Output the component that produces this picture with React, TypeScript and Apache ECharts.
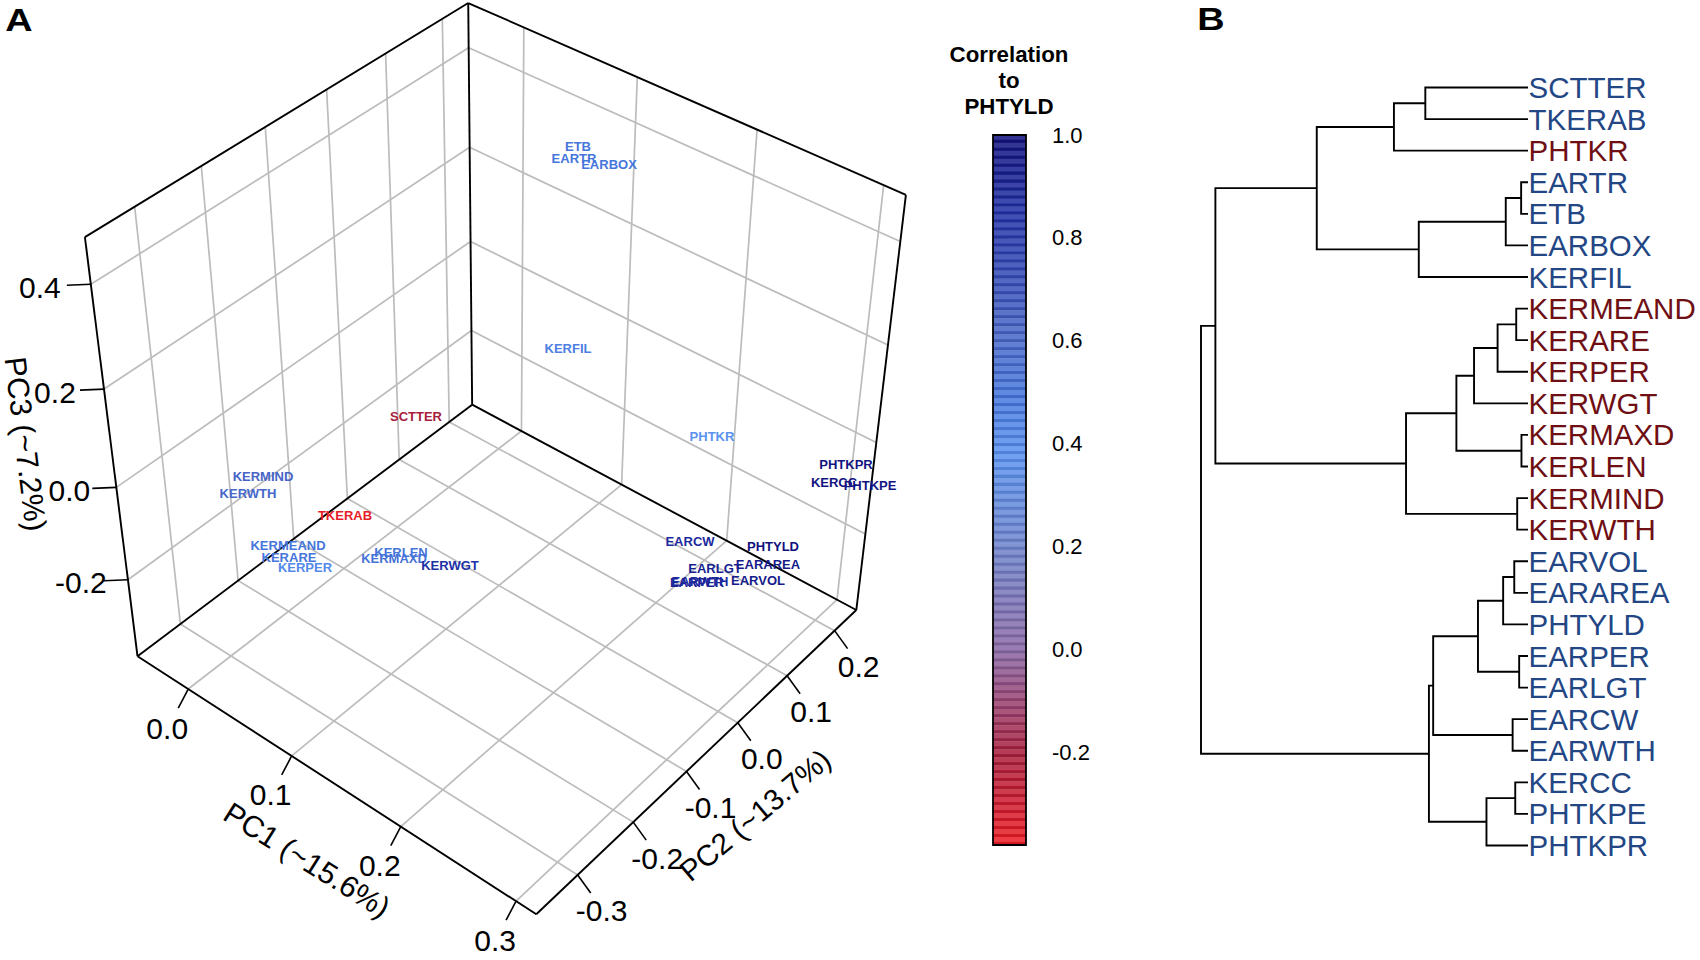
import React, { useEffect, useRef } from "react";
import * as echarts from "echarts";

const FONT = "Liberation Sans";

// ---------- Panel A data ----------
const traitNames = ["ETB","EARTR","EARBOX","KERFIL","SCTTER","PHTKR","PHTKPR","KERCC","PHTKPE","KERMIND","KERWTH","TKERAB","KERMEAND","KERARE","KERPER","KERLEN","KERMAXD","KERWGT","EARCW","PHTYLD","EARAREA","EARLGT","EARWTH","EARPER","EARVOL"];
const traitProjectedX = [578,574,609,568,416,712,846,834,870,263,248,345,288,289,305,401,394,450,690,773,768,715,700,697,758];
const traitProjectedY = [146,158,164,348,416,436,464,482,485,476,493,515,545,557,567,552,558,565,541,546,564,568,581,582,580];
const traitCorrelation = [0.5,0.5,0.5,0.46,-0.2,0.38,0.98,0.98,0.98,0.62,0.6,-0.36,0.5,0.5,0.42,0.5,0.52,0.85,0.88,1.0,0.95,0.93,0.88,0.9,0.95];

const pc1Ticks = [0.0, 0.1, 0.2, 0.3];
const pc2Ticks = [-0.3, -0.2, -0.1, 0.0, 0.1, 0.2];
const pc3Ticks = [-0.2, 0.0, 0.2, 0.4];
const pc1Range = [-0.051, 0.317];
const pc2Range = [-0.372, 0.247];
const pc3Range = [-0.375, 0.486];

// Projection calibration: [pc1, pc2, pc3, screenX, screenY]
const projectionAnchors: number[][] = [
  [pc1Range[0], pc2Range[0], pc3Range[0], 137, 655],
  [pc1Range[1], pc2Range[0], pc3Range[0], 535, 914],
  [pc1Range[1], pc2Range[1], pc3Range[0], 857, 609],
  [pc1Range[0], pc2Range[1], pc3Range[0], 472, 405],
  [pc1Range[0], pc2Range[0], pc3Range[1], 85, 236],
  [pc1Range[0], pc2Range[1], pc3Range[1], 468, 3],
  [pc1Range[1], pc2Range[1], pc3Range[1], 906, 195],
  [0.0, pc2Range[0], pc3Range[0], 189, 690],
  [0.1, pc2Range[0], pc3Range[0], 292, 757],
  [0.2, pc2Range[0], pc3Range[0], 401, 827],
  [0.3, pc2Range[0], pc3Range[0], 515, 900],
  [pc1Range[1], -0.3, pc3Range[0], 578, 876],
  [pc1Range[1], -0.2, pc3Range[0], 635, 821],
  [pc1Range[1], -0.1, pc3Range[0], 687, 773],
  [pc1Range[1], 0.0, pc3Range[0], 737, 722],
  [pc1Range[1], 0.1, pc3Range[0], 787, 676],
  [pc1Range[1], 0.2, pc3Range[0], 834, 631],
  [pc1Range[0], pc2Range[0], -0.2, 128, 579],
  [pc1Range[0], pc2Range[0], 0.0, 116, 487],
  [pc1Range[0], pc2Range[0], 0.2, 104, 390],
  [pc1Range[0], pc2Range[0], 0.4, 91, 285],
];

// ---------- Colour scale ----------
const colorStopValues = [-0.38, -0.2, 0, 0.2, 0.38, 0.5, 0.62, 0.85, 1];
const colorStopHex = ["#ee1c24", "#a81c3c", "#8a68a6", "#6f84cc", "#5a92f0", "#4676dc", "#4664c6", "#2030a6", "#10107c"];
const colorBarMin = -0.379;
const colorBarMax = 1.0;
const colorBarStep = 0.0155;
const colorBarTicks = [-0.2, 0, 0.2, 0.4, 0.6, 0.8, 1.0];

// ---------- Panel B data ----------
const leafNames = ["SCTTER","TKERAB","PHTKR","EARTR","ETB","EARBOX","KERFIL","KERMEAND","KERARE","KERPER","KERWGT","KERMAXD","KERLEN","KERMIND","KERWTH","EARVOL","EARAREA","PHTYLD","EARPER","EARLGT","EARCW","EARWTH","KERCC","PHTKPE","PHTKPR"];
const redLeaves = ["PHTKR","KERMEAND","KERARE","KERPER","KERWGT","KERMAXD","KERLEN","KERMIND","KERWTH"];
// [left child, right child, height]: a child is a leaf name or the index of an earlier merge
const merges: [string | number, string | number, number][] = [
  ["SCTTER","TKERAB",0.314],
  [0,"PHTKR",0.41],
  ["EARTR","ETB",0.021],
  [2,"EARBOX",0.068],
  [3,"KERFIL",0.334],
  [1,4,0.646],
  ["KERMEAND","KERARE",0.036],
  [6,"KERPER",0.093],
  [7,"KERWGT",0.165],
  ["KERMAXD","KERLEN",0.02],
  [8,9,0.219],
  ["KERMIND","KERWTH",0.033],
  [10,11,0.373],
  [5,12,0.956],
  ["EARVOL","EARAREA",0.042],
  [14,"PHTYLD",0.076],
  ["EARPER","EARLGT",0.027],
  [15,16,0.153],
  ["EARCW","EARWTH",0.047],
  [17,18,0.29],
  ["KERCC","PHTKPE",0.039],
  [20,"PHTKPR",0.127],
  [19,21,0.303],
  [13,22,1.0],
];

// ---------- Helpers ----------
function hexRgb(h: string) {
  return [parseInt(h.slice(1, 3), 16), parseInt(h.slice(3, 5), 16), parseInt(h.slice(5, 7), 16)];
}
function mix(a: number[], b: number[], t: number) {
  return a.map((v, i) => v + (b[i] - v) * t);
}
function css(c: number[]) {
  return `rgb(${Math.round(c[0])},${Math.round(c[1])},${Math.round(c[2])})`;
}
function ramp(v: number) {
  const n = colorStopValues.length;
  if (v <= colorStopValues[0]) return hexRgb(colorStopHex[0]);
  for (let i = 1; i < n; i++) {
    if (v <= colorStopValues[i]) {
      const t = (v - colorStopValues[i - 1]) / (colorStopValues[i] - colorStopValues[i - 1]);
      return mix(hexRgb(colorStopHex[i - 1]), hexRgb(colorStopHex[i]), t);
    }
  }
  return hexRgb(colorStopHex[n - 1]);
}

function solveLinear(A: number[][], b: number[]) {
  const n = b.length;
  const M = A.map((r, i) => [...r, b[i]]);
  for (let c = 0; c < n; c++) {
    let piv = c;
    for (let r = c + 1; r < n; r++) if (Math.abs(M[r][c]) > Math.abs(M[piv][c])) piv = r;
    [M[c], M[piv]] = [M[piv], M[c]];
    for (let r = 0; r < n; r++) {
      if (r === c) continue;
      const f = M[r][c] / M[c][c];
      for (let k = c; k <= n; k++) M[r][k] -= f * M[c][k];
    }
  }
  return M.map((r, i) => r[n] / r[i]);
}

function fitProjection() {
  const rows: number[][] = [];
  const rhs: number[] = [];
  projectionAnchors.forEach(([u, v, w, X, Y]) => {
    const x = X / 1000;
    const y = Y / 1000;
    rows.push([u, v, w, 1, 0, 0, 0, 0, -x * u, -x * v, -x * w]);
    rhs.push(x);
    rows.push([0, 0, 0, 0, u, v, w, 1, -y * u, -y * v, -y * w]);
    rhs.push(y);
  });
  const m = 11;
  const AtA = Array.from({ length: m }, (_, i) =>
    Array.from({ length: m }, (_, j) => rows.reduce((s, r) => s + r[i] * r[j], 0))
  );
  const Atb = Array.from({ length: m }, (_, i) => rows.reduce((s, r, k) => s + r[i] * rhs[k], 0));
  return solveLinear(AtA, Atb);
}
const P = fitProjection();
function project(u: number, v: number, w: number) {
  const d = P[8] * u + P[9] * v + P[10] * w + 1;
  return [
    (1000 * (P[0] * u + P[1] * v + P[2] * w + P[3])) / d,
    (1000 * (P[4] * u + P[5] * v + P[6] * w + P[7])) / d,
  ];
}

function seg(a: number[], b: number[]) {
  return [a[0], a[1], b[0], b[1]];
}

function buildPlotLines() {
  const [x0, x1] = pc1Range;
  const [y0, y1] = pc2Range;
  const [z0, z1] = pc3Range;
  const grid: number[][] = [];
  pc1Ticks.forEach((t) => {
    grid.push(seg(project(t, y0, z0), project(t, y1, z0)));
    grid.push(seg(project(t, y1, z0), project(t, y1, z1)));
  });
  pc2Ticks.forEach((t) => {
    grid.push(seg(project(x0, t, z0), project(x1, t, z0)));
    grid.push(seg(project(x0, t, z0), project(x0, t, z1)));
  });
  pc3Ticks.forEach((t) => {
    grid.push(seg(project(x0, y0, t), project(x0, y1, t)));
    grid.push(seg(project(x0, y1, t), project(x1, y1, t)));
  });
  const box = [
    seg(project(x0, y0, z1), project(x0, y1, z1)),
    seg(project(x0, y1, z1), project(x1, y1, z1)),
    seg(project(x0, y0, z1), project(x0, y0, z0)),
    seg(project(x0, y1, z1), project(x0, y1, z0)),
    seg(project(x1, y1, z1), project(x1, y1, z0)),
    seg(project(x0, y0, z0), project(x0, y1, z0)),
    seg(project(x0, y1, z0), project(x1, y1, z0)),
    seg(project(x0, y0, z0), project(x1, y0, z0)),
    seg(project(x1, y0, z0), project(x1, y1, z0)),
  ];
  const ticks: number[][] = [];
  const labels: { name: string; value: number[] }[] = [];
  pc1Ticks.forEach((t) => {
    const p = project(t, y0, z0);
    ticks.push([p[0], p[1], p[0] - 10, p[1] + 19]);
    labels.push({ name: t.toFixed(1), value: [p[0] - 21, p[1] + 39] });
  });
  pc2Ticks.forEach((t) => {
    const p = project(x1, t, z0);
    ticks.push([p[0], p[1], p[0] + 13, p[1] + 18]);
    labels.push({ name: t.toFixed(1), value: [p[0] + 24, p[1] + 36] });
  });
  pc3Ticks.forEach((t) => {
    const p = project(x0, y0, t);
    ticks.push([p[0], p[1], p[0] - 24, p[1] + 1]);
    labels.push({ name: t.toFixed(1), value: [p[0] - 47 - Math.max(0, t) * 10, p[1] + 3] });
  });
  return { grid, box, ticks, labels };
}

function buildDendrogram() {
  const leafY = (n: string) => leafNames.indexOf(n);
  const nodeY: number[] = [];
  const rows: number[][] = [];
  const place = (c: string | number): [number, number] =>
    typeof c === "string" ? [0, leafY(c)] : [merges[c][2], nodeY[c]];
  merges.forEach(([a, b, h], i) => {
    const [ha, ya] = place(a);
    const [hb, yb] = place(b);
    nodeY[i] = (ya + yb) / 2;
    rows.push([ha, ya, h, yb, hb]);
  });
  return rows;
}

function segmentSeries(data: number[][], stroke: string, lineWidth: number) {
  return {
    type: "custom",
    xAxisIndex: 0,
    yAxisIndex: 0,
    silent: true,
    clip: false,
    data,
    renderItem: (_p: any, api: any) => {
      const a = api.coord([api.value(0), api.value(1)]);
      const b = api.coord([api.value(2), api.value(3)]);
      return {
        type: "line",
        shape: { x1: a[0], y1: a[1], x2: b[0], y2: b[1] },
        style: { stroke, lineWidth, fill: null },
      };
    },
  };
}

function buildOption() {
  const { grid, box, ticks, labels } = buildPlotLines();
  const traitData = traitNames.map((name, i) => {
    const color = css(ramp(traitCorrelation[i]));
    return {
      name,
      value: [traitProjectedX[i], traitProjectedY[i]],
      label: { color, textBorderColor: "transparent", textBorderWidth: 0 },
    };
  });
  const bandValues: number[][] = [];
  for (let v = colorBarMin; v < colorBarMax - 1e-6; v += colorBarStep) bandValues.push([0, v]);
  const tree = buildDendrogram();

  return {
    animation: false,
    backgroundColor: "#ffffff",
    textStyle: { fontFamily: FONT },
    grid: [
      { left: 0, top: 0, width: 1700, height: 960 },
      { left: 993, top: 135, width: 33, height: 710 },
      { left: 1201, top: 87.5, width: 327, height: 758 },
    ],
    xAxis: [
      { type: "value", gridIndex: 0, min: 0, max: 1700, show: false },
      { type: "value", gridIndex: 1, min: 0, max: 1, show: false },
      { type: "value", gridIndex: 2, min: 0, max: 1, inverse: true, show: false },
    ],
    yAxis: [
      { type: "value", gridIndex: 0, min: 0, max: 960, inverse: true, show: false },
      {
        type: "value",
        gridIndex: 1,
        min: colorBarMin,
        max: colorBarMax,
        position: "right",
        splitLine: { show: false },
        axisLine: { show: false },
        axisTick: {
          show: true,
          length: 14,
          customValues: colorBarTicks,
          lineStyle: { color: "#000", width: 1.5 },
        },
        axisLabel: {
          show: true,
          customValues: colorBarTicks,
          margin: 26,
          fontSize: 22,
          fontFamily: FONT,
          color: "#000",
          formatter: (v: number) => v.toFixed(1),
        },
      },
      {
        type: "value",
        gridIndex: 2,
        min: 0,
        max: leafNames.length - 1,
        interval: 1,
        inverse: true,
        position: "right",
        splitLine: { show: false },
        axisLine: { show: false },
        axisTick: { show: false },
        axisLabel: {
          show: true,
          margin: 0.5,
          fontSize: 29.5,
          fontFamily: FONT,
          formatter: (v: number) => leafNames[v],
          color: (v: any) => (redLeaves.includes(leafNames[Number(v)]) ? "#6f0f14" : "#234684"),
        },
      },
    ],
    series: [
      segmentSeries(grid, "#bcbcbc", 1.7),
      segmentSeries(box, "#000000", 1.9),
      segmentSeries(ticks, "#000000", 1.6),
      {
        type: "scatter",
        xAxisIndex: 0,
        yAxisIndex: 0,
        silent: true,
        symbolSize: 1,
        itemStyle: { color: "transparent", opacity: 1 },
        data: labels,
        label: {
          show: true,
          position: "inside",
          formatter: "{b}",
          color: "#000",
          fontSize: 30,
          fontFamily: FONT,
          textBorderWidth: 0,
          textBorderColor: "transparent",
        },
      },
      {
        type: "scatter",
        xAxisIndex: 0,
        yAxisIndex: 0,
        silent: true,
        symbolSize: 1,
        itemStyle: { color: "transparent", opacity: 1 },
        data: traitData,
        label: {
          show: true,
          position: "inside",
          formatter: "{b}",
          fontSize: 13,
          fontWeight: "bold",
          fontFamily: FONT,
        },
      },
      {
        type: "custom",
        xAxisIndex: 1,
        yAxisIndex: 1,
        silent: true,
        data: bandValues,
        renderItem: (_p: any, api: any) => {
          const v = api.value(1);
          const next = Math.min(v + colorBarStep, colorBarMax);
          const tl = api.coord([0, next]);
          const br = api.coord([1, v]);
          const h = br[1] - tl[1];
          const base = ramp(v + colorBarStep / 2);
          return {
            type: "group",
            children: [
              {
                type: "rect",
                shape: { x: tl[0], y: tl[1], width: br[0] - tl[0], height: h + 0.3 },
                style: { fill: css(mix(base, [255, 255, 255], 0.14)) },
              },
              {
                type: "rect",
                shape: { x: tl[0], y: tl[1] + h * 0.62, width: br[0] - tl[0], height: h * 0.38 },
                style: { fill: css(mix(base, [0, 0, 0], 0.1)) },
              },
            ],
          };
        },
      },
      {
        type: "custom",
        xAxisIndex: 1,
        yAxisIndex: 1,
        silent: true,
        clip: false,
        data: [[0, colorBarMin, 1, colorBarMax]],
        renderItem: (_p: any, api: any) => {
          const a = api.coord([api.value(0), api.value(3)]);
          const b = api.coord([api.value(2), api.value(1)]);
          return {
            type: "rect",
            shape: { x: a[0], y: a[1], width: b[0] - a[0], height: b[1] - a[1] },
            style: { fill: "none", stroke: "#000", lineWidth: 1.8 },
          };
        },
      },
      {
        type: "custom",
        xAxisIndex: 2,
        yAxisIndex: 2,
        silent: true,
        clip: false,
        data: tree,
        renderItem: (_p: any, api: any) => {
          const a = api.coord([api.value(0), api.value(1)]);
          const b = api.coord([api.value(2), api.value(1)]);
          const c = api.coord([api.value(2), api.value(3)]);
          const d = api.coord([api.value(4), api.value(3)]);
          return {
            type: "polyline",
            shape: { points: [a, b, c, d] },
            style: { stroke: "#000", lineWidth: 1.9, fill: null },
          };
        },
      },
    ],
    graphic: [
      { type: "text", x: 19, y: 20, scaleX: 1.22, style: { text: "A", font: `bold 31px "${FONT}"`, fill: "#000", align: "center", verticalAlign: "middle" } },
      { type: "text", x: 1211, y: 19, scaleX: 1.22, style: { text: "B", font: `bold 31px "${FONT}"`, fill: "#000", align: "center", verticalAlign: "middle" } },
      { type: "text", x: 1009, y: 54, style: { text: "Correlation", font: `bold 22.3px "${FONT}"`, fill: "#000", align: "center", verticalAlign: "middle" } },
      { type: "text", x: 1009, y: 80, style: { text: "to", font: `bold 22.3px "${FONT}"`, fill: "#000", align: "center", verticalAlign: "middle" } },
      { type: "text", x: 1009, y: 106, style: { text: "PHTYLD", font: `bold 22.3px "${FONT}"`, fill: "#000", align: "center", verticalAlign: "middle" } },
      { type: "text", x: 307, y: 860, rotation: (-32 * Math.PI) / 180, style: { text: "PC1 (~15.6%)", font: `30px "${FONT}"`, fill: "#000", align: "center", verticalAlign: "middle" } },
      { type: "text", x: 755, y: 815, rotation: (40 * Math.PI) / 180, style: { text: "PC2 (~13.7%)", font: `29.5px "${FONT}"`, fill: "#000", align: "center", verticalAlign: "middle" } },
      { type: "text", x: 26, y: 444, rotation: (-83 * Math.PI) / 180, style: { text: "PC3 (~7.2%)", font: `30.5px "${FONT}"`, fill: "#000", align: "center", verticalAlign: "middle" } },
    ],
  };
}

export default function App() {
  const ref = useRef<HTMLDivElement>(null);
  useEffect(() => {
    if (!ref.current) return;
    const chart = echarts.init(ref.current, undefined, { renderer: "svg" });
    chart.setOption(buildOption() as any);
    return () => chart.dispose();
  }, []);
  return (
    <div
      ref={ref}
      style={{ position: "absolute", left: 0, top: 0, width: 1700, height: 960, background: "#fff" }}
    />
  );
}
